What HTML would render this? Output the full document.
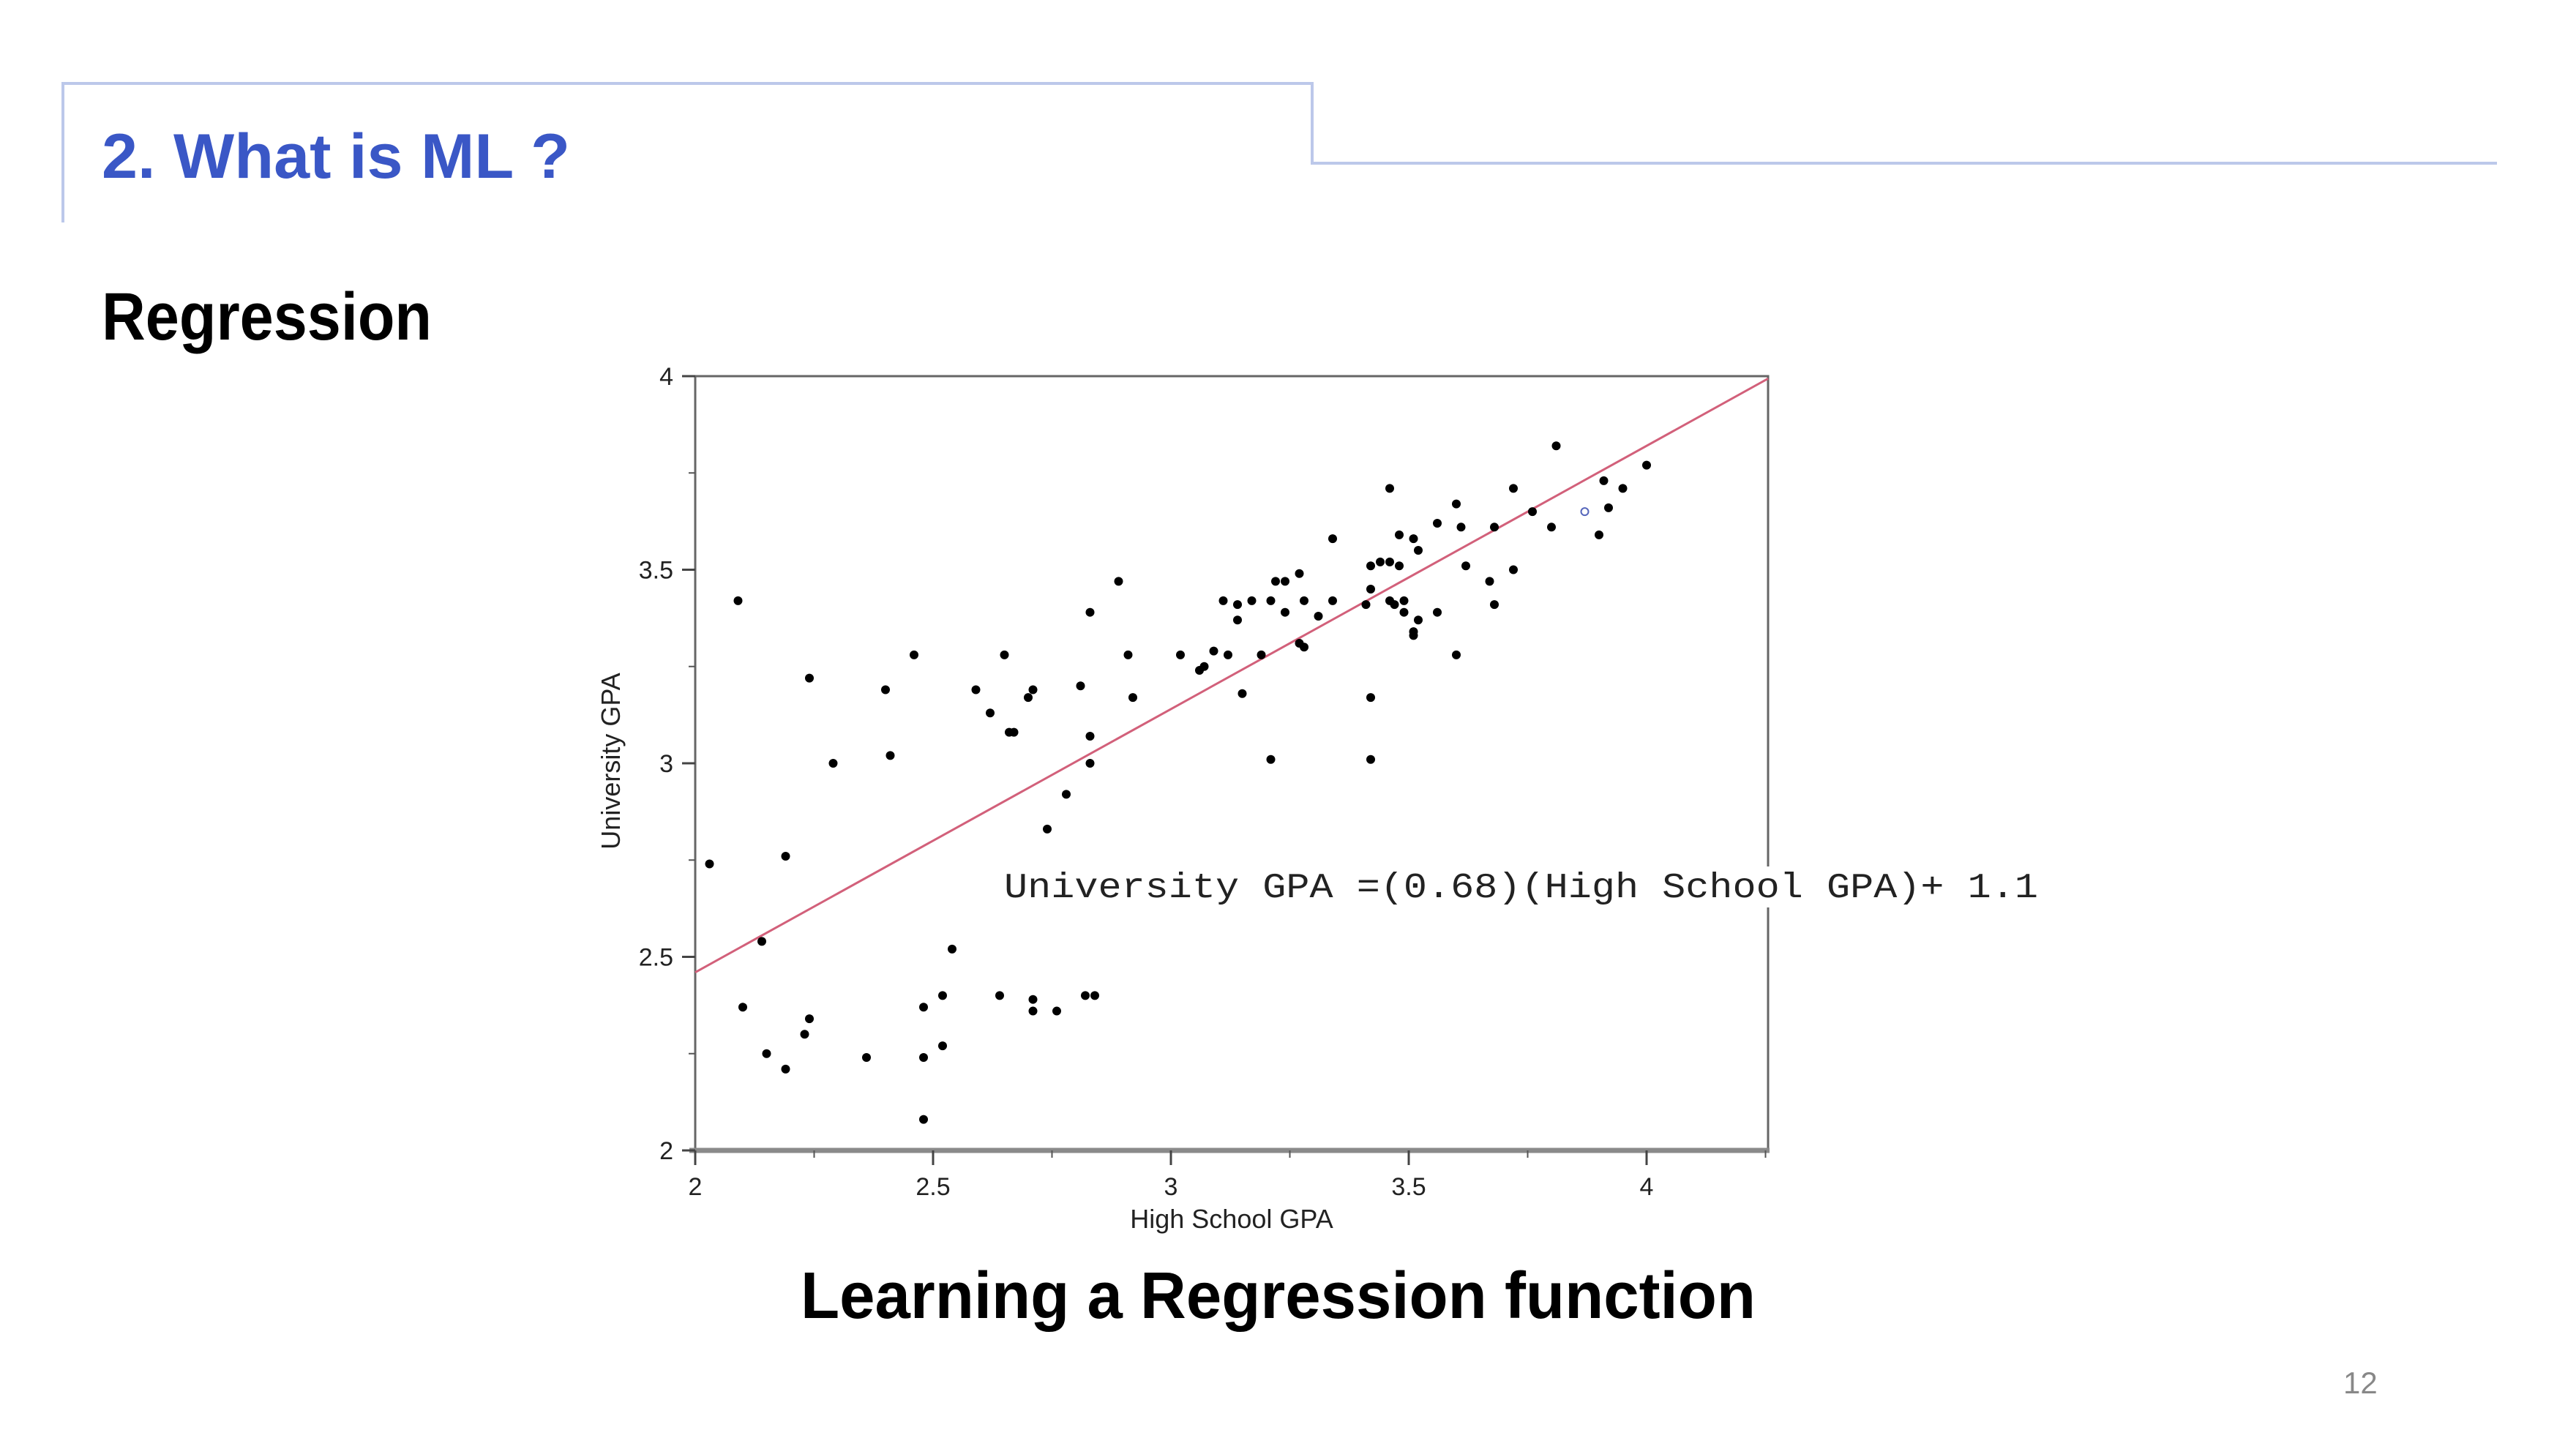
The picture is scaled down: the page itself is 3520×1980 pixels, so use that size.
<!DOCTYPE html>
<html><head><meta charset="utf-8"><style>
html,body{margin:0;padding:0;background:#fff;}
svg{display:block;}
</style></head><body>
<svg id="slide" width="3520" height="1980" viewBox="0 0 3520 1980" xmlns="http://www.w3.org/2000/svg">
<rect width="3520" height="1980" fill="#fff"/>
<polyline points="86,304 86,114 1793,114 1793,223 3412,223" fill="none" stroke="#bcc8ea" stroke-width="4"/>
<text x="139" y="243" font-family="Liberation Sans, Noto Sans CJK KR, sans-serif" font-weight="bold" font-size="86" fill="#3a57c6" textLength="640" lengthAdjust="spacingAndGlyphs">2. What is ML ?</text>
<text x="139" y="464" font-family="Liberation Sans, Noto Sans CJK KR, sans-serif" font-weight="bold" font-size="92" fill="#000" textLength="451" lengthAdjust="spacingAndGlyphs">Regression</text>
<g id="chart"></g>
<text x="1094" y="1801" font-family="Liberation Sans, Noto Sans CJK KR, sans-serif" font-weight="bold" font-size="90" fill="#000" textLength="1305" lengthAdjust="spacingAndGlyphs">Learning a Regression function</text>
<text x="3202" y="1904" font-family="Liberation Sans, sans-serif" font-size="42" fill="#888">12</text>
</svg>
<script>
const hsGpa = [2.09,2.03,2.19,2.24,2.29,2.14,2.10,2.15,2.19,2.23,2.24,2.36,2.40,2.41,2.46,2.48,2.48,2.48,2.52,2.52,2.54,2.59,2.62,2.65,2.64,2.66,2.67,2.70,2.71,2.71,2.71,2.74,2.76,2.78,2.81,2.83,2.83,2.83,2.82,2.84,2.89,2.91,2.92,3.02,3.06,3.07,3.09,3.11,3.12,3.14,3.14,3.15,3.17,3.19,3.21,3.21,3.22,3.24,3.24,3.27,3.28,3.27,3.28,3.31,3.34,3.34,3.41,3.42,3.42,3.42,3.42,3.44,3.46,3.46,3.46,3.47,3.48,3.48,3.49,3.49,3.51,3.52,3.52,3.51,3.51,3.56,3.56,3.60,3.61,3.62,3.60,3.67,3.68,3.68,3.72,3.72,3.76,3.80,3.81,3.90,3.91,3.92,3.95,4.00];
const uniGpa = [3.42,2.74,2.76,3.22,3.00,2.54,2.37,2.25,2.21,2.30,2.34,2.24,3.19,3.02,3.28,2.37,2.24,2.08,2.40,2.27,2.52,3.19,3.13,3.28,2.40,3.08,3.08,3.17,3.19,2.39,2.36,2.83,2.36,2.92,3.20,3.39,3.07,3.00,2.40,2.40,3.47,3.28,3.17,3.28,3.24,3.25,3.29,3.42,3.28,3.41,3.37,3.18,3.42,3.28,3.01,3.42,3.47,3.47,3.39,3.49,3.42,3.31,3.30,3.38,3.58,3.42,3.41,3.51,3.45,3.17,3.01,3.52,3.52,3.71,3.42,3.41,3.51,3.59,3.39,3.42,3.58,3.55,3.37,3.34,3.33,3.62,3.39,3.67,3.61,3.51,3.28,3.47,3.61,3.41,3.71,3.50,3.65,3.61,3.82,3.59,3.73,3.66,3.71,3.77];
const highlightX = [3.87];
const highlightY = [3.65];
const slope = [0.68];
const intercept = [1.1];
const xTicks = [2,2.5,3,3.5,4];
const yTicks = [2,2.5,3,3.5,4];
const xMinorTicks = [2.25,2.75,3.25,3.75,4.25];
const yMinorTicks = [2.25,2.75,3.25,3.75];

const NS='http://www.w3.org/2000/svg';
const g=document.getElementById('chart');
const X0=950, XU=650, Y0=1572, YU=529;
const sx=v=>X0+(v-2)*XU;
const sy=v=>Y0-(v-2)*YU;
const xMax=2+(2416-X0)/XU;
function mk(tag,attrs,parent){const e=document.createElementNS(NS,tag);for(const k in attrs)e.setAttribute(k,attrs[k]);(parent||g).appendChild(e);return e;}

let e;
e=mk('rect',{x:X0,y:sy(4),width:sx(xMax)-X0,height:Y0-sy(4),fill:'none',stroke:'#666','stroke-width':3});


e=mk('line',{x1:X0-8,y1:Y0,x2:sx(xMax)+2,y2:Y0,stroke:'#8a8a8a','stroke-width':7});



xTicks.forEach(t=>{
  let l=mk('line',{x1:sx(t),y1:Y0,x2:sx(t),y2:Y0+20,stroke:'#444','stroke-width':3});
  
  
  let tx=mk('text',{x:sx(t),y:1633,'text-anchor':'middle','font-family':'Liberation Sans, sans-serif','font-size':34,fill:'#222'});
  tx.textContent=String(t);
  
  
});
xMinorTicks.forEach(t=>{
  let l=mk('line',{x1:sx(t),y1:Y0,x2:sx(t),y2:Y0+10,stroke:'#555','stroke-width':2});
  
  
});
yTicks.forEach(t=>{
  let l=mk('line',{x1:X0-18,y1:sy(t),x2:X0,y2:sy(t),stroke:'#444','stroke-width':3});
  
  
  let tx=mk('text',{x:920,y:sy(t)+12,'text-anchor':'end','font-family':'Liberation Sans, sans-serif','font-size':34,fill:'#222'});
  tx.textContent=String(t);
  
  
});
yMinorTicks.forEach(t=>{
  let l=mk('line',{x1:X0-9,y1:sy(t),x2:X0,y2:sy(t),stroke:'#555','stroke-width':2});
  
  
});
e=mk('text',{x:1683,y:1678,'text-anchor':'middle','font-family':'Liberation Sans, sans-serif','font-size':36,fill:'#222'});
e.textContent='High School GPA';


e=mk('text',{x:0,y:0,'text-anchor':'middle','font-family':'Liberation Sans, sans-serif','font-size':36,fill:'#222',transform:'translate(847,1040) rotate(-90)'});
e.textContent='University GPA';



e=mk('line',{x1:sx(2),y1:sy(slope[0]*2+intercept[0]),x2:sx(xMax),y2:sy(slope[0]*xMax+intercept[0]),stroke:'#d2607a','stroke-width':3});



hsGpa.forEach((v,i)=>{
  let c=mk('circle',{cx:sx(v),cy:sy(uniGpa[i]),r:6,fill:'#000'});
  
  
});
highlightX.forEach((v,i)=>{
  let c=mk('circle',{cx:sx(v),cy:sy(highlightY[i]),r:5,fill:'#fff',stroke:'#5566bb','stroke-width':2});
  
  
});

e=mk('rect',{x:1368,y:1184,width:1422,height:56,fill:'#fff'});


e=mk('text',{x:1372,y:1226,'font-family':'Liberation Mono, monospace','font-size':48,fill:'#222',textLength:1413,lengthAdjust:'spacingAndGlyphs'});
e.textContent='University GPA =(0.68)(High School GPA)+ 1.1';


</script>
</body></html>
